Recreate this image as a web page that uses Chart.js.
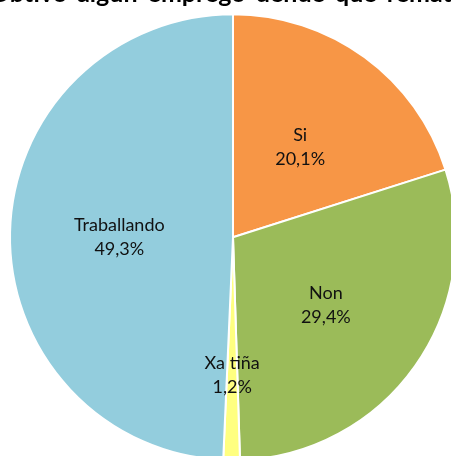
<!DOCTYPE html>
<html><head><meta charset="utf-8">
<script src="https://cdn.jsdelivr.net/npm/chart.js@4.4.1/dist/chart.umd.min.js"></script>
<style>
html,body{margin:0;padding:0;background:#fff;overflow:hidden;width:451px;height:456px;}
#wrap{position:absolute;left:0;top:-15px;width:451px;height:478px;}
</style></head><body>
<div id="wrap"><canvas id="c"></canvas></div>
<script>
const titleText = 'Obtivo algún emprego dende que rematou';
const categories = ['Si', 'Non', 'Xa tiña', 'Traballando'];
const values = [20.1, 29.4, 1.2, 49.3];

const fmt = v => v.toFixed(1).replace('.', ',') + '%';

const titlePlugin = {
  id: 'topTitle',
  afterDraw(chart) {
    const ctx = chart.ctx;
    const a = chart.chartArea;
    ctx.save();
    ctx.font = 'bold 25px Lato';
    ctx.wordSpacing = '4px';
    ctx.fillStyle = '#000';
    ctx.textAlign = 'center';
    ctx.textBaseline = 'alphabetic';
    ctx.fillText(titleText, (a.left + a.right) / 2 + 2, a.top - 9);
    ctx.restore();
  }
};

const labelPlugin = {
  id: 'sliceLabels',
  afterDatasetsDraw(chart) {
    const ctx = chart.ctx;
    const meta = chart.getDatasetMeta(0);
    const total = values.reduce((a, b) => a + b, 0);
    ctx.save();
    ctx.font = '18px Lato';
    ctx.fillStyle = '#111';
    ctx.textAlign = 'center';
    ctx.textBaseline = 'middle';
    meta.data.forEach((arc, i) => {
      const p = arc.getProps(['x', 'y', 'startAngle', 'endAngle', 'outerRadius'], true);
      const mid = (p.startAngle + p.endAngle) / 2;
      const f = values[i] / total < 0.05 ? 0.61 : 0.51;
      const px = p.x + Math.cos(mid) * p.outerRadius * f;
      const py = p.y + Math.sin(mid) * p.outerRadius * f;
      ctx.fillText(categories[i], px, py - 10);
      ctx.fillText(fmt(values[i]), px, py + 14);
    });
    ctx.restore();
  }
};

new Chart(document.getElementById('c'), {
  type: 'pie',
  data: {
    labels: categories,
    datasets: [{
      data: values,
      backgroundColor: ['#F79646', '#9BBB59', '#FFFF80', '#93CDDD'],
      borderColor: '#ffffff',
      borderWidth: 2,
      radius: 223,
      clip: false
    }]
  },
  options: {
    responsive: true,
    maintainAspectRatio: false,
    animation: false,
    layout: { padding: { left: 15, top: 26.4 } },
    plugins: {
      legend: { display: false },
      tooltip: { enabled: false },
      title: { display: false }
    }
  },
  plugins: [labelPlugin, titlePlugin]
});
</script>
</body></html>
